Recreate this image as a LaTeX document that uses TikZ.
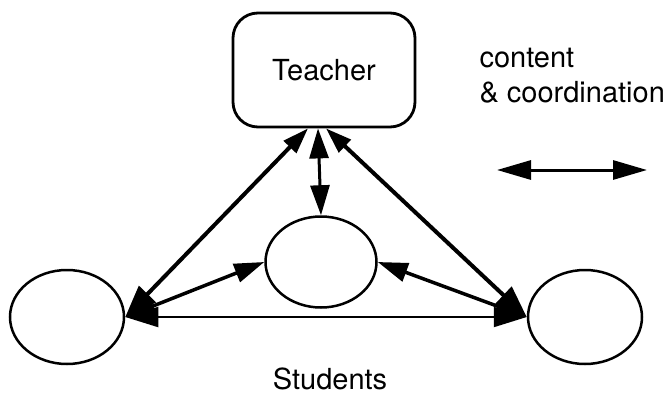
\documentclass[tikz,border=0pt]{standalone}
\usepackage{fontspec}
\setmainfont{TeX Gyre Heros}
\usetikzlibrary{shapes.geometric, arrows.meta, positioning}

\begin{document}
\begin{tikzpicture}[x=1pt, y=-1pt,
    every node/.style={font=\fontsize{29}{35}\selectfont},
    student/.style={draw, ellipse, line width=2.5pt, minimum width=114pt, minimum height=94pt},
    link/.style={{Triangle[length=30pt,width=19pt]}-{Triangle[length=30pt,width=19pt]}, line width=3.5pt},
    spoke/.style={{Triangle[length=26pt,width=17pt]}-{Triangle[length=32pt,width=23pt]}, line width=4pt},
  ]
    \useasboundingbox (0,0) rectangle (671,394);

    % teacher and the three students
    \node [draw, rounded corners=25pt, line width=2.8pt, minimum width=182pt, minimum height=114pt] (teacher) at (324,70) {Teacher};
    \node [student, minimum width=111pt, minimum height=91pt] (mid) at (321,262) {};
    \node [student] (left) at (67,317) {};
    \node [student] (right) at (585,317) {};
    \node [anchor=base, inner sep=0pt] (students) at (330,389) {Students};

    % links
    \draw [spoke] ([xshift=-16pt]teacher.south) -- (left.east);
    \draw [spoke] ([xshift=2pt]teacher.south) -- (right.west);
    \draw [link, line width=3pt] ([xshift=-6pt]teacher.south) -- (mid.north);
    \draw [link] (left.east) -- (mid.west);
    \draw [link] (mid.east) -- (right.west);
    \draw [link, line width=2pt, {Triangle[length=33pt,width=20pt]}-{Triangle[length=33pt,width=20pt]}] (left.east) -- (right.west);

    % legend
    \node [align=left, anchor=base west] (legend) at (476,102) {content\\\& coordination};
    \coordinate (legL) at (497,170);
    \coordinate (legR) at (647,170);
    \draw [link, line width=3pt, {Triangle[length=34pt,width=19pt]}-{Triangle[length=34pt,width=19pt]}] (legL) -- (legR);
\end{tikzpicture}
\end{document}
